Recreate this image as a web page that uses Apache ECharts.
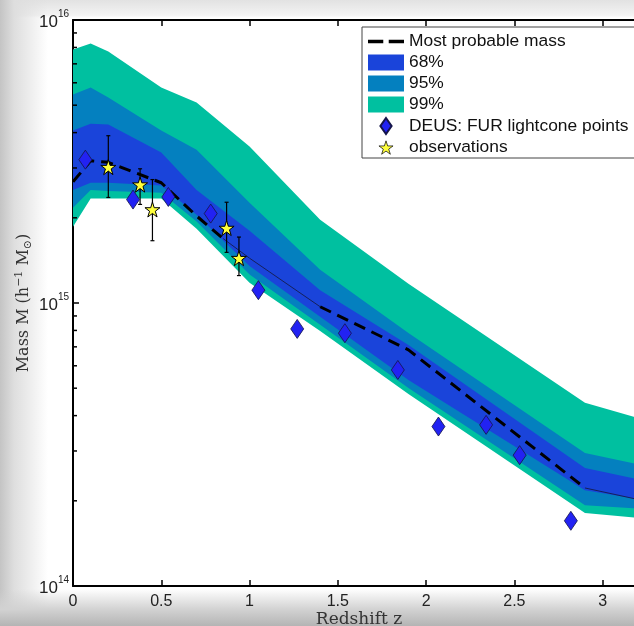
<!DOCTYPE html>
<html><head><meta charset="utf-8">
<script src="https://cdn.jsdelivr.net/npm/echarts@6.0.0/dist/echarts.min.js"></script>
<style>
html,body{margin:0;padding:0;width:634px;height:626px;overflow:hidden;background:#fff;}
.shade{position:absolute;pointer-events:none;}
#bgTop{left:0;top:0;width:634px;height:18px;background:linear-gradient(to bottom,#e2e2e2,#f3f3f3 85%,#fff);}
#bgLeft{left:0;top:0;width:48px;height:626px;background:linear-gradient(to right,#c4c4c4 0,#dedede 14px,rgba(255,255,255,0) 48px);}
#bgBottom{left:0;top:589px;width:634px;height:37px;background:linear-gradient(to bottom,rgba(255,255,255,0),#d2d2d2 55%,#b4b4b4);}
#chart{position:absolute;left:0;top:0;width:680px;height:626px;}
</style></head>
<body>
<div class="shade" id="bgTop"></div>
<div class="shade" id="bgLeft"></div>
<div class="shade" id="bgBottom"></div>
<div id="chart"></div>
<script>
// ---- data ----
const zGrid   = [0, 0.1, 0.2, 0.5, 0.7, 1.0, 1.4, 1.9, 2.9, 3.3];
const upper99 = [7.86e15, 8.26e15, 7.74e15, 5.77e15, 5.11e15, 3.57e15, 1.97e15, 1.17e15, 4.44e14, 3.77e14];
const upper95 = [5.45e15, 5.77e15, 5.32e15, 4.07e15, 3.48e15, 2.26e15, 1.31e15, 7.84e14, 2.95e14, 2.61e14];
const upper68 = [4.07e15, 4.30e15, 4.27e15, 3.40e15, 2.51e15, 1.80e15, 1.11e15, 7.11e14, 2.61e14, 2.31e14];
const lower68 = [2.51e15, 2.66e15, 2.66e15, 2.60e15, 2.05e15, 1.35e15, 8.94e14, 5.35e14, 2.18e14, 1.98e14];
const lower95 = [2.17e15, 2.51e15, 2.49e15, 2.45e15, 1.94e15, 1.26e15, 8.37e14, 5.01e14, 1.93e14, 1.86e14];
const lower99 = [1.86e15, 2.34e15, 2.34e15, 2.34e15, 1.83e15, 1.18e15, 7.97e14, 4.77e14, 1.81e14, 1.72e14];

const mpmZ    = [0, 0.1, 0.2, 0.5, 0.7, 0.85, 1.0, 1.4, 1.9, 2.9, 3.3];
const mpmMass = [2.68e15, 3.18e15, 3.14e15, 2.66e15, 2.03e15, 1.69e15, 1.44e15, 9.70e14, 6.83e14, 2.22e14, 1.96e14];
const mpmDashedRanges = [[0, 0.85], [1.4, 2.9]];
const mpmThinRanges   = [[0.85, 1.4], [2.9, 3.3]];

const deusZ    = [0.07, 0.34, 0.54, 0.78, 1.05, 1.27, 1.54, 1.84, 2.07, 2.34, 2.53, 2.82];
const deusMass = [3.21e15, 2.32e15, 2.37e15, 2.07e15, 1.11e15, 8.10e14, 7.82e14, 5.80e14, 3.66e14, 3.71e14, 2.90e14, 1.70e14];

const obsZ    = [0.20, 0.38, 0.45, 0.87, 0.94];
const obsMass = [3.02e15, 2.62e15, 2.14e15, 1.84e15, 1.44e15];
const obsLow  = [2.36e15, 2.23e15, 1.66e15, 1.51e15, 1.25e15];
const obsHigh = [3.90e15, 2.98e15, 2.73e15, 2.27e15, 1.71e15];

const yMinorTicks = [2e14, 3e14, 4e14, 5e14, 6e14, 7e14, 8e14, 9e14,
                     2e15, 3e15, 4e15, 5e15, 6e15, 7e15, 8e15, 9e15];
const legendNames = ['Most probable mass', '68%', '95%', '99%', 'DEUS: FUR lightcone points', 'observations'];

// ---- styles ----
const C99 = '#00C0A0', C95 = '#0480BF', C68 = '#1A44DA';
const STAR = 'path://M50,0 L61.2,34.5 L97.6,34.5 L68.2,55.9 L79.4,90.5 L50,69.1 L20.6,90.5 L31.8,55.9 L2.4,34.5 L38.8,34.5 Z';
const STAR_LEGEND = 'path://M50,-9 L50,-9 M50,0 L61.2,34.5 L97.6,34.5 L68.2,55.9 L79.4,90.5 L50,69.1 L20.6,90.5 L31.8,55.9 L2.4,34.5 L38.8,34.5 Z M50,99 L50,99';
const SANS = 'Liberation Sans, Arial, sans-serif';
const SERIF = 'DejaVu Serif, serif';

function inRanges(z, ranges) { return ranges.some(r => z >= r[0] - 1e-9 && z <= r[1] + 1e-9); }

function band(name, color, upper, lower, z) {
  return {
    type: 'custom', name, z, clip: true, silent: true,
    itemStyle: { color },
    data: [[zGrid[0], upper[0]]],
    renderItem: (params, api) => {
      const pts = [];
      for (let i = 0; i < zGrid.length; i++) pts.push(api.coord([zGrid[i], upper[i]]));
      for (let i = zGrid.length - 1; i >= 0; i--) pts.push(api.coord([zGrid[i], lower[i]]));
      return { type: 'polygon', shape: { points: pts }, style: { fill: color } };
    }
  };
}

const chart = echarts.init(document.getElementById('chart'));
chart.setOption({
  animation: false,
  grid: { left: 73, top: 20, width: 572, height: 566, containLabel: false, outerBoundsMode: 'none' },
  graphic: [{
    type: 'rect', z: 15, silent: true,
    shape: { x: 362, y: 27, width: 320, height: 131 },
    style: { fill: '#fff', stroke: '#444', lineWidth: 1 }
  }],
  legend: {
    z: 20, orient: 'vertical', left: 362, top: 28,
    padding: [5, 10, 4, 6], itemGap: 4, itemWidth: 36, itemHeight: 16,
    borderWidth: 0,
    textStyle: { fontFamily: SANS, fontSize: 17.4, color: '#111', lineHeight: 16 },
    selectedMode: false,
    data: [
      { name: legendNames[0], icon: 'path://M0,0H14V3H0Z M19,0H33V3H19Z' },
      { name: legendNames[1], icon: 'rect' },
      { name: legendNames[2], icon: 'rect' },
      { name: legendNames[3], icon: 'rect' },
      { name: legendNames[4], icon: 'path://M7,0L14,10L7,20L0,10Z' },
      { name: legendNames[5], icon: STAR_LEGEND, itemStyle: { borderWidth: 0.7 } }
    ]
  },
  xAxis: [{
    type: 'value', min: 0, max: 3.24, interval: 0.5, position: 'bottom',
    axisLine: { show: true, onZero: false, lineStyle: { color: '#000', width: 2 } },
    axisTick: { show: true, inside: true, length: 6, lineStyle: { color: '#000', width: 1.5 } },
    splitLine: { show: false },
    axisLabel: { fontFamily: SANS, fontSize: 16, color: '#222', margin: 8, showMaxLabel: false },
    name: 'Redshift z', nameLocation: 'middle', nameGap: 25, nameMoveOverlap: false,
    nameTextStyle: { fontFamily: SERIF, fontSize: 17, color: '#333', verticalAlign: 'top' }
  }, {
    type: 'value', min: 0, max: 3.24, interval: 0.5, position: 'top',
    axisLine: { show: true, onZero: false, lineStyle: { color: '#000', width: 2 } },
    axisTick: { show: true, inside: true, length: 6, lineStyle: { color: '#000', width: 1.5 } },
    splitLine: { show: false }, axisLabel: { show: false }
  }],
  yAxis: [{
    type: 'log', logBase: 10, min: 1e14, max: 1e16, position: 'left',
    axisLine: { show: true, onZero: false, lineStyle: { color: '#000', width: 2 } },
    axisTick: { show: true, inside: true, length: 6, lineStyle: { color: '#000', width: 1.5 } },
    splitLine: { show: false },
    axisLabel: {
      margin: 4, color: '#222',
      formatter: v => '{b|10}{s|' + Math.round(Math.log10(v)) + '}',
      rich: {
        b: { fontFamily: SANS, fontSize: 17, color: '#222', lineHeight: 22, verticalAlign: 'bottom' },
        s: { fontFamily: SANS, fontSize: 10, color: '#222', lineHeight: 10, verticalAlign: 'top' }
      }
    },
    name: 'Mass M (h{sup|\u22121} M{sub|\u2299})', nameLocation: 'middle', nameGap: 39, nameMoveOverlap: false,
    nameTextStyle: {
      fontFamily: SERIF, fontSize: 16, color: '#333', lineHeight: 20,
      rich: {
        sup: { fontFamily: SERIF, fontSize: 11, color: '#333', lineHeight: 12, verticalAlign: 'top' },
        sub: { fontFamily: SERIF, fontSize: 11, color: '#333', lineHeight: 12, verticalAlign: 'bottom' }
      }
    }
  }],
  series: [
    band(legendNames[3], C99, upper99, lower99, 1),
    band(legendNames[2], C95, upper95, lower95, 2),
    band(legendNames[1], C68, upper68, lower68, 3),
    {
      type: 'line', name: legendNames[0], z: 4, symbol: 'none', silent: true,
      itemStyle: { color: '#000' },
      lineStyle: { color: '#000', width: 3, type: [12, 7], cap: 'butt' },
      data: mpmZ.map((z, i) => inRanges(z, mpmDashedRanges) ? [z, mpmMass[i]] : [z, '-'])
    },
    {
      type: 'line', name: 'mpm-thin', z: 4, symbol: 'none', silent: true,
      lineStyle: { color: '#16205a', width: 1 },
      data: mpmZ.map((z, i) => inRanges(z, mpmThinRanges) ? [z, mpmMass[i]] : [z, '-'])
    },
    {
      type: 'custom', name: 'obs-err', z: 5, silent: true,
      data: obsZ.map((z, i) => [z, obsLow[i], obsHigh[i]]),
      encode: { x: 0, y: [1, 2] },
      renderItem: (params, api) => {
        const x = api.value(0);
        const lo = api.coord([x, api.value(1)]);
        const hi = api.coord([x, api.value(2)]);
        const c = 2, st = { stroke: '#000', lineWidth: 1.2 };
        return { type: 'group', children: [
          { type: 'line', shape: { x1: lo[0], y1: lo[1], x2: hi[0], y2: hi[1] }, style: st },
          { type: 'line', shape: { x1: lo[0] - c, y1: lo[1], x2: lo[0] + c, y2: lo[1] }, style: st },
          { type: 'line', shape: { x1: hi[0] - c, y1: hi[1], x2: hi[0] + c, y2: hi[1] }, style: st }
        ]};
      }
    },
    {
      type: 'scatter', name: legendNames[4], z: 6, silent: true,
      symbol: 'diamond', symbolSize: [13, 19],
      itemStyle: { color: '#2222F2', borderColor: '#15154a', borderWidth: 0.8, opacity: 1 },
      data: deusZ.map((z, i) => [z, deusMass[i]])
    },
    {
      type: 'scatter', name: legendNames[5], z: 7, silent: true,
      symbol: STAR, symbolSize: 15,
      itemStyle: { color: '#FFFF3C', borderColor: '#000', borderWidth: 1, opacity: 1 },
      data: obsZ.map((z, i) => [z, obsMass[i]])
    },
    {
      type: 'custom', name: 'y-minor-ticks', z: 8, silent: true,
      data: yMinorTicks.map(v => [0, v]),
      renderItem: (params, api) => {
        const p = api.coord([0, api.value(1)]);
        return { type: 'line', shape: { x1: p[0], y1: p[1], x2: p[0] + 4, y2: p[1] }, style: { stroke: '#000', lineWidth: 1.5 } };
      }
    }
  ]
});
</script>
</body></html>
